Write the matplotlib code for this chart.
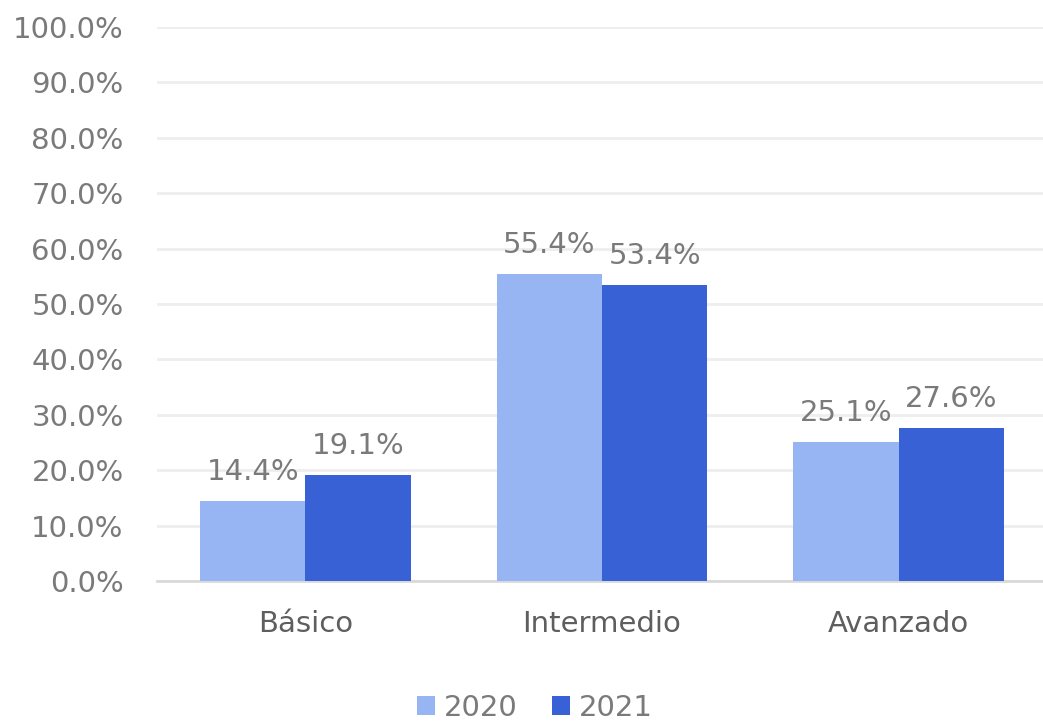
import matplotlib.pyplot as plt
import numpy as np

plt.rcParams['font.family'] = ['DejaVu Sans']

# datos
categorias = ["Básico", "Intermedio", "Avanzado"]
valores_2020 = [14.4, 55.4, 25.1]
valores_2021 = [19.1, 53.4, 27.6]
series = ["2020", "2021"]

color_2020 = "#97B5F3"
color_2021 = "#3861D5"
gris = "#7A7A7A"

fig = plt.figure(figsize=(10.43, 7.24), dpi=100)
ax = fig.add_axes([157 / 1043, 1 - 581 / 724, (1047 - 157) / 1043, (581 - 27) / 724])

x = np.arange(len(categorias))
ancho = 0.355
b1 = ax.bar(x - ancho / 2, valores_2020, ancho, color=color_2020, label=series[0], zorder=3)
b2 = ax.bar(x + ancho / 2, valores_2021, ancho, color=color_2021, label=series[1], zorder=3)

for barras in (b1, b2):
    for b in barras:
        ax.annotate(f"{b.get_height():.1f}%", (b.get_x() + b.get_width() / 2, b.get_height()),
                    xytext=(0, 11), textcoords="offset points", ha="center", va="bottom",
                    fontsize=21, color=gris)

ax.set_xlim(-0.5, 2.5)
ax.set_ylim(0, 100)
ax.set_yticks(np.arange(0, 101, 10))
ax.set_yticklabels([f"{v:.1f}%" for v in np.arange(0, 101, 10)])
ax.set_xticks(x)
ax.set_xticklabels(categorias)
ax.tick_params(axis='y', length=0, pad=24, labelsize=21, labelcolor=gris)
ax.tick_params(axis='x', length=0, pad=21, labelsize=21, labelcolor="#5E5E5E")
ax.grid(axis='y', color="#EEEEEE", linewidth=2, zorder=0)
for s in ["top", "right", "left"]:
    ax.spines[s].set_visible(False)
ax.spines["bottom"].set_color("#D9D9D9")
ax.spines["bottom"].set_linewidth(2)

fig.legend(loc="center", bbox_to_anchor=(535 / 1043, 1 - 708 / 724), ncol=2, frameon=False,
           fontsize=21, labelcolor=gris, handlelength=0.6, handleheight=0.6,
           handletextpad=0.3, columnspacing=1.2)

plt.savefig("out.png", dpi=100)
